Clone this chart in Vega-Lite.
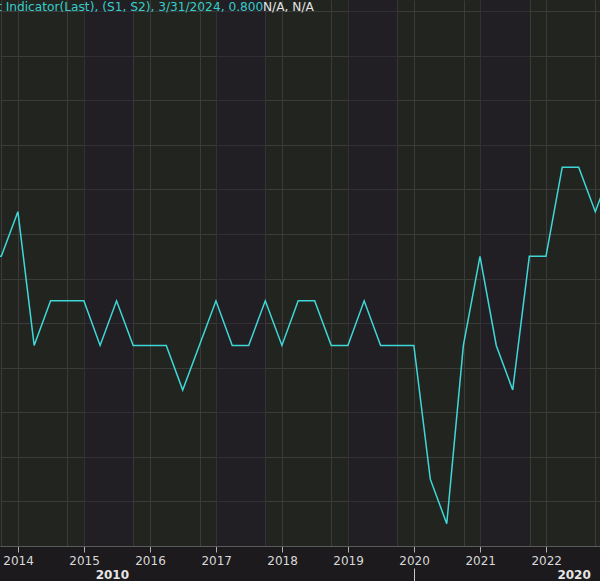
{
  "$schema": "https://vega.github.io/schema/vega-lite/v6.json",
  "width": 600,
  "height": 546,
  "autosize": {"type": "none"},
  "padding": {"left": 0, "top": 0, "right": 0, "bottom": 35},
  "background": "#1c1a1d",
  "config": {
    "view": {"fill": "#22241f", "stroke": null},
    "axis": {"labelFont": "DejaVu Sans", "titleFont": "DejaVu Sans"}
  },
  "datasets": {
    "series": [
      {"date": "2013-06-30", "value": 0.5},
      {"date": "2013-09-30", "value": 0.5},
      {"date": "2013-12-31", "value": 0.7},
      {"date": "2014-03-31", "value": 0.1},
      {"date": "2014-06-30", "value": 0.3},
      {"date": "2014-09-30", "value": 0.3},
      {"date": "2014-12-31", "value": 0.3},
      {"date": "2015-03-31", "value": 0.1},
      {"date": "2015-06-30", "value": 0.3},
      {"date": "2015-09-30", "value": 0.1},
      {"date": "2015-12-31", "value": 0.1},
      {"date": "2016-03-31", "value": 0.1},
      {"date": "2016-06-30", "value": -0.1},
      {"date": "2016-09-30", "value": 0.1},
      {"date": "2016-12-31", "value": 0.3},
      {"date": "2017-03-31", "value": 0.1},
      {"date": "2017-06-30", "value": 0.1},
      {"date": "2017-09-30", "value": 0.3},
      {"date": "2017-12-31", "value": 0.1},
      {"date": "2018-03-31", "value": 0.3},
      {"date": "2018-06-30", "value": 0.3},
      {"date": "2018-09-30", "value": 0.1},
      {"date": "2018-12-31", "value": 0.1},
      {"date": "2019-03-31", "value": 0.3},
      {"date": "2019-06-30", "value": 0.1},
      {"date": "2019-09-30", "value": 0.1},
      {"date": "2019-12-31", "value": 0.1},
      {"date": "2020-03-31", "value": -0.5},
      {"date": "2020-06-30", "value": -0.7},
      {"date": "2020-09-30", "value": 0.1},
      {"date": "2020-12-31", "value": 0.5},
      {"date": "2021-03-31", "value": 0.1},
      {"date": "2021-06-30", "value": -0.1},
      {"date": "2021-09-30", "value": 0.5},
      {"date": "2021-12-31", "value": 0.5},
      {"date": "2022-03-31", "value": 0.9},
      {"date": "2022-06-30", "value": 0.9},
      {"date": "2022-09-30", "value": 0.7},
      {"date": "2022-12-31", "value": 0.9},
      {"date": "2023-03-31", "value": 0.9},
      {"date": "2023-06-30", "value": 0.7},
      {"date": "2023-09-30", "value": 0.7},
      {"date": "2023-12-31", "value": 0.7},
      {"date": "2024-03-31", "value": 0.8}
    ],
    "bands": [
      {"start": "2015-01-01", "end": "2015-10-01"},
      {"start": "2017-01-01", "end": "2017-10-01"},
      {"start": "2019-01-01", "end": "2019-10-01"},
      {"start": "2021-01-01", "end": "2021-10-01"}
    ]
  },
  "resolve": {"axis": {"x": "independent"}},
  "layer": [
    {
      "data": {"name": "bands"},
      "mark": {"type": "rect", "fill": "#20182b", "opacity": 0.35, "clip": true},
      "encoding": {
        "x": {
          "field": "start",
          "type": "temporal",
          "scale": {
            "type": "utc",
            "domain": [
              {"year": 2013, "month": 9, "date": 23, "utc": true},
              {"year": 2022, "month": 10, "date": 26, "utc": true}
            ]
          },
          "axis": {
            "orient": "bottom",
            "values": [
              {"year": 2015, "month": 6, "date": 4, "utc": true},
              {"year": 2020, "month": 1, "date": 1, "utc": true},
              {"year": 2022, "month": 6, "date": 2, "utc": true}
            ],
            "labelExpr": "utcyear(datum.value) == 2015 ? '2010' : (utcyear(datum.value) == 2022 ? '2020' : '')",
            "domain": false,
            "grid": false,
            "offset": 22,
            "tickSize": 13,
            "tickColor": "#c8c8c8",
            "tickOpacity": {"condition": {"test": "utcyear(datum.value) == 2020", "value": 1}, "value": 0},
            "labelPadding": -12,
            "labelFontWeight": "bold",
            "labelColor": "#e6e6e6",
            "labelFontSize": 12,
            "labelOverlap": false,
            "labelFlush": false,
            "title": null
          }
        },
        "x2": {"field": "end"}
      }
    },
    {
      "data": {"name": "series"},
      "mark": {"type": "line", "color": "#3fd8d8", "strokeWidth": 1.5, "clip": true},
      "encoding": {
        "x": {
          "field": "date",
          "type": "temporal",
          "scale": {
            "type": "utc",
            "domain": [
              {"year": 2013, "month": 9, "date": 23, "utc": true},
              {"year": 2022, "month": 10, "date": 26, "utc": true}
            ]
          },
          "axis": {
            "orient": "bottom",
            "values": [
              {"year": 2013, "month": 10, "date": 1, "utc": true},
              {"year": 2014, "month": 1, "date": 1, "utc": true},
              {"year": 2014, "month": 10, "date": 1, "utc": true},
              {"year": 2015, "month": 1, "date": 1, "utc": true},
              {"year": 2015, "month": 10, "date": 1, "utc": true},
              {"year": 2016, "month": 1, "date": 1, "utc": true},
              {"year": 2016, "month": 10, "date": 1, "utc": true},
              {"year": 2017, "month": 1, "date": 1, "utc": true},
              {"year": 2017, "month": 10, "date": 1, "utc": true},
              {"year": 2018, "month": 1, "date": 1, "utc": true},
              {"year": 2018, "month": 10, "date": 1, "utc": true},
              {"year": 2019, "month": 1, "date": 1, "utc": true},
              {"year": 2019, "month": 10, "date": 1, "utc": true},
              {"year": 2020, "month": 1, "date": 1, "utc": true},
              {"year": 2020, "month": 10, "date": 1, "utc": true},
              {"year": 2021, "month": 1, "date": 1, "utc": true},
              {"year": 2021, "month": 10, "date": 1, "utc": true},
              {"year": 2022, "month": 1, "date": 1, "utc": true},
              {"year": 2022, "month": 10, "date": 1, "utc": true},
              {"year": 2023, "month": 1, "date": 1, "utc": true}
            ],
            "labelExpr": "utcmonth(datum.value) == 0 ? utcFormat(datum.value, '%Y') : ''",
            "labelOverlap": false,
            "labelFlush": false,
            "tickOpacity": {"condition": {"test": "utcmonth(datum.value) != 0", "value": 0}, "value": 1},
            "tickSize": 6,
            "tickColor": "#b0b0b0",
            "grid": true,
            "gridColor": "#3b3b3b",
            "domainColor": "#5a5a5a",
            "labelColor": "#d8d8d8",
            "labelFontSize": 12,
            "labelPadding": 3,
            "title": null
          }
        },
        "y": {
          "field": "value",
          "type": "quantitative",
          "scale": {"domain": [-0.8, 1.65], "nice": false, "zero": false},
          "axis": {
            "values": [-0.8, -0.7, -0.6, -0.5, -0.4, -0.3, -0.2, -0.1, 0, 0.1, 0.2, 0.3, 0.4, 0.5, 0.6, 0.7, 0.8, 0.9, 1.0, 1.1, 1.2, 1.3, 1.4, 1.5, 1.6],
            "labels": false,
            "ticks": false,
            "domain": false,
            "grid": true,
            "gridColor": "#3b3b3b",
            "title": null
          }
        }
      }
    },
    {
      "data": {"values": [{"label": "t Indicator(Last), (S1, S2), 3/31/2024, 0.800"}]},
      "mark": {"type": "text", "align": "left", "baseline": "alphabetic", "dx": -3, "dy": 11, "font": "DejaVu Sans", "fontSize": 12.2, "color": "#38cccc"},
      "encoding": {
        "x": {"datum": {"year": 2013, "month": 9, "date": 23, "utc": true}, "type": "temporal", "axis": null},
        "y": {"datum": 1.65, "type": "quantitative"},
        "text": {"field": "label"}
      }
    },
    {
      "data": {"values": [{"label": "N/A, N/A"}]},
      "mark": {"type": "text", "align": "left", "baseline": "alphabetic", "dx": 263, "dy": 11, "font": "DejaVu Sans", "fontSize": 12.2, "color": "#e4e4e4"},
      "encoding": {
        "x": {"datum": {"year": 2013, "month": 9, "date": 23, "utc": true}, "type": "temporal", "axis": null},
        "y": {"datum": 1.65, "type": "quantitative"},
        "text": {"field": "label"}
      }
    }
  ]
}
